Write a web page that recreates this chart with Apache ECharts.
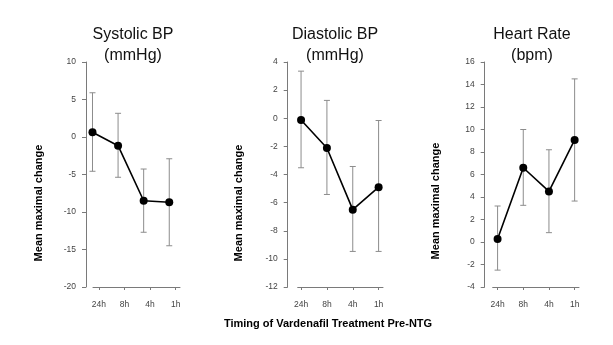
<!DOCTYPE html>
<html>
<head>
<meta charset="utf-8">
<script src="https://cdn.jsdelivr.net/npm/echarts@6/dist/echarts.min.js"></script>
<style>html,body{margin:0;padding:0;background:#fff;}#c{width:613px;height:345px;}</style>
</head>
<body>
<div id="c"></div>
<script>
// ---- data ----
const categories = ['24h', '8h', '4h', '1h'];
const sysMean = [0.63, -1.16, -8.5, -8.7];
const sysLow  = [-4.57, -5.37, -12.7, -14.5];
const sysHigh = [5.9, 3.16, -4.27, -2.9];
const diaMean = [-0.13, -2.12, -6.5, -4.9];
const diaLow  = [-3.52, -5.42, -9.47, -9.47];
const diaHigh = [3.35, 1.27, -3.43, -0.16];
const hrMean  = [0.27, 6.6, 4.5, 9.07];
const hrLow   = [-2.5, 3.26, 0.83, 3.64];
const hrHigh  = [3.2, 10.0, 8.2, 14.5];
const titles1 = ['Systolic BP', 'Diastolic BP', 'Heart Rate'];
const titles2 = ['(mmHg)', '(mmHg)', '(bpm)'];
const yTitle = 'Mean maximal change';
const xTitle = 'Timing of Vardenafil Treatment Pre-NTG';
const yMin = [-20, -12, -4];
const yMax = [10, 4, 16];
const yStep = [5, 2, 2];

// ---- layout (positions / styles only) ----
const panels = [
  {left: 93, width: 87, xmin: -0.23, xmax: 3.17, shift: -0.25, yoff: 7, tx: 133, ytx: 39, yty: 203},
  {left: 297.7, width: 85.3, xmin: -0.13, xmax: 3.17, shift: 0, yoff: 10, tx: 335, ytx: 239, yty: 203},
  {left: 492.7, width: 86.3, xmin: -0.19, xmax: 3.17, shift: 0, yoff: 8, tx: 532, ytx: 436, yty: 201}
];
const means = [sysMean, diaMean, hrMean];
const lows = [sysLow, diaLow, hrLow];
const highs = [sysHigh, diaHigh, hrHigh];
const axisColor = '#7a7a7a';
const errColor = '#8c8c8c';
const labelColor = '#444';
const FONT = 'Liberation Sans, Arial, Helvetica, sans-serif';

const grids = [], xAxes = [], yAxes = [], series = [], graphics = [];
const idx = categories.map((c, i) => i);

panels.forEach((p, k) => {
  grids.push({left: p.left, width: p.width, top: 62, height: 225});
  xAxes.push({
    type: 'value', gridIndex: k, min: p.xmin, max: p.xmax,
    axisLine: {show: true, onZero: false, lineStyle: {color: axisColor, width: 1}},
    axisTick: {show: true, length: 3, customValues: idx, lineStyle: {color: axisColor}},
    axisLabel: {show: true, customValues: idx, margin: 13, color: labelColor, fontSize: 8.5, fontFamily: FONT,
      formatter: v => categories[Math.round(v)]},
    splitLine: {show: false}
  });
  yAxes.push({
    type: 'value', gridIndex: k, min: yMin[k], max: yMax[k], interval: yStep[k], offset: p.yoff,
    axisLine: {show: true, onZero: false, lineStyle: {color: axisColor, width: 1}},
    axisTick: {show: true, length: 4, lineStyle: {color: axisColor}},
    axisLabel: {margin: 10, color: labelColor, fontSize: 8.5, fontFamily: FONT, padding: [6, 0, 0, 0]},
    splitLine: {show: false}
  });
  const errData = idx.map(i => [i + p.shift, lows[k][i], highs[k][i]]);
  series.push({
    type: 'custom', xAxisIndex: k, yAxisIndex: k, data: errData, z: 1,
    renderItem: function (params, api) {
      const x = api.value(0);
      const lo = api.coord([x, api.value(1)]);
      const hi = api.coord([x, api.value(2)]);
      const cw = 3;
      const st = {stroke: errColor, lineWidth: 1};
      return {type: 'group', children: [
        {type: 'line', shape: {x1: lo[0], y1: lo[1], x2: hi[0], y2: hi[1]}, style: st},
        {type: 'line', shape: {x1: lo[0] - cw, y1: lo[1], x2: lo[0] + cw, y2: lo[1]}, style: st},
        {type: 'line', shape: {x1: hi[0] - cw, y1: hi[1], x2: hi[0] + cw, y2: hi[1]}, style: st}
      ]};
    }
  });
  series.push({
    type: 'line', xAxisIndex: k, yAxisIndex: k, z: 3, clip: false,
    data: idx.map(i => [i + p.shift, means[k][i]]),
    symbol: 'circle', symbolSize: 8,
    itemStyle: {color: '#000'},
    lineStyle: {color: '#000', width: 1.6}
  });
  graphics.push({type: 'text', x: p.tx, y: 35, style: {text: titles1[k], font: '16px ' + FONT, fill: '#111', textAlign: 'center', textVerticalAlign: 'middle'}});
  graphics.push({type: 'text', x: p.tx, y: 55.5, style: {text: titles2[k], font: '16px ' + FONT, fill: '#111', textAlign: 'center', textVerticalAlign: 'middle'}});
  graphics.push({type: 'text', x: p.ytx, y: p.yty, rotation: Math.PI / 2, style: {text: yTitle, font: 'bold 11px ' + FONT, fill: '#000', textAlign: 'center', textVerticalAlign: 'middle'}});
});
graphics.push({type: 'text', x: 328, y: 324, style: {text: xTitle, font: 'bold 11px ' + FONT, fill: '#000', textAlign: 'center', textVerticalAlign: 'middle'}});

const chart = echarts.init(document.getElementById('c'), null, {renderer: 'canvas'});
chart.setOption({
  animation: false,
  backgroundColor: '#fff',
  grid: grids, xAxis: xAxes, yAxis: yAxes, series: series,
  graphic: graphics
});
</script>
</body>
</html>
